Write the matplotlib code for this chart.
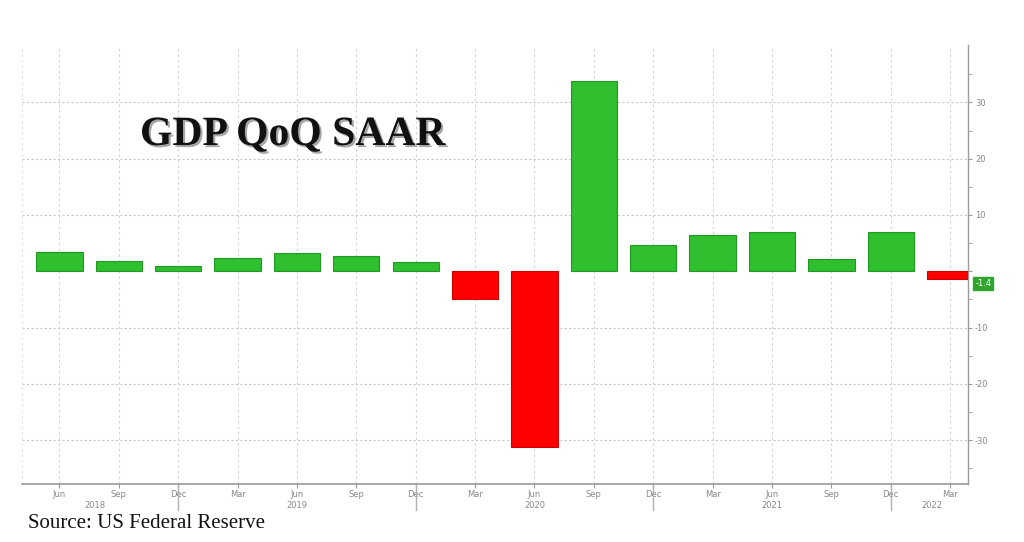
import matplotlib
matplotlib.use("Agg")
import matplotlib.pyplot as plt
import matplotlib.patheffects as pe
import numpy as np

quarters = ["Jun", "Sep", "Dec", "Mar", "Jun", "Sep", "Dec", "Mar",
            "Jun", "Sep", "Dec", "Mar", "Jun", "Sep", "Dec", "Mar"]
gdp_qoq = [3.5, 1.9, 0.9, 2.4, 3.2, 2.8, 1.7, -5.0,
           -31.3, 33.8, 4.6, 6.4, 6.9, 2.2, 6.9, -1.4]
years = ["2018", "2019", "2020", "2021", "2022"]
year_pos = [0.6, 4.0, 8.0, 12.0, 14.7]
yticks = [-30, -20, -10, 0, 10, 20, 30]
last_label = "-1.4"

fig = plt.figure(figsize=(10.24, 5.42), dpi=100)
ax = fig.add_axes([22/1024, 1-483.5/542, (968-22)/1024, (483.5-45)/542])

x = np.arange(len(gdp_qoq))
colors = ["#2fbf2f" if v >= 0 else "#ff0000" for v in gdp_qoq]
edges = ["#229922" if v >= 0 else "#cc0000" for v in gdp_qoq]
ax.bar(x, gdp_qoq, width=0.78, color=colors, edgecolor=edges, linewidth=0.8, zorder=3)

ax.set_xlim(-0.63, 15.3)
ax.set_ylim(-37.7, 40.2)

# grid
for yv in [30, 20, 10, -10, -20, -30]:
    ax.axhline(yv, color="#c8c8c8", lw=0.8, ls=(0, (2, 2)), zorder=1)
for xi in x:
    ax.axvline(xi, color="#d0d0d0", lw=0.8, ls=(0, (2, 3)), zorder=1)
ax.axvline(-0.63, color="#e0e0e0", lw=0.8, ls=(0, (2, 3)), zorder=1)

for s in ["top", "left"]:
    ax.spines[s].set_visible(False)
ax.spines["right"].set_color("#9a9a9a")
ax.spines["bottom"].set_color("#9a9a9a")
ax.spines["right"].set_linewidth(1.0)
ax.spines["bottom"].set_linewidth(1.2)

ax.yaxis.tick_right()
ax.set_yticks(yticks)
ax.set_yticklabels([str(v) if v != 0 else "" for v in yticks], fontsize=6, color="#888888")
ax.set_yticks(np.arange(-35, 40, 5), minor=True)
ax.tick_params(axis="y", which="both", length=3, color="#9a9a9a", pad=2)

ax.set_xticks(x)
ax.set_xticklabels(quarters, fontsize=6, color="#888888")
ax.tick_params(axis="x", length=3, color="#9a9a9a", pad=2)

# year separators and labels
for sep in [2, 6, 10, 14]:
    ax.plot([sep, sep], [0, -0.06], transform=ax.get_xaxis_transform(),
            color="#b0b0b0", lw=1.0, clip_on=False)
for yl, yp in zip(years, year_pos):
    ax.text(yp, -0.05, yl, transform=ax.get_xaxis_transform(), ha="center",
            va="center", fontsize=6, color="#888888")

# last value label
ax.text(15.42, gdp_qoq[-1] - 0.8, last_label, fontsize=6, color="white", ha="left",
        va="center", clip_on=False,
        bbox=dict(boxstyle="square,pad=0.25", fc="#2fa52f", ec="#2fa52f"))

fig.text(140/1024, 1-135/542, "GDP QoQ SAAR", family="Liberation Serif",
         fontweight="bold", fontsize=30, color="#111111", va="center", ha="left",
         path_effects=[pe.SimplePatchShadow(offset=(1.5, -1.5), alpha=0.35), pe.Normal()])
fig.text(28/1024, 1-523/542, "Source: US Federal Reserve", family="Liberation Serif",
         fontsize=15, color="#111111", va="center", ha="left")

fig.savefig("out.png", dpi=100)
